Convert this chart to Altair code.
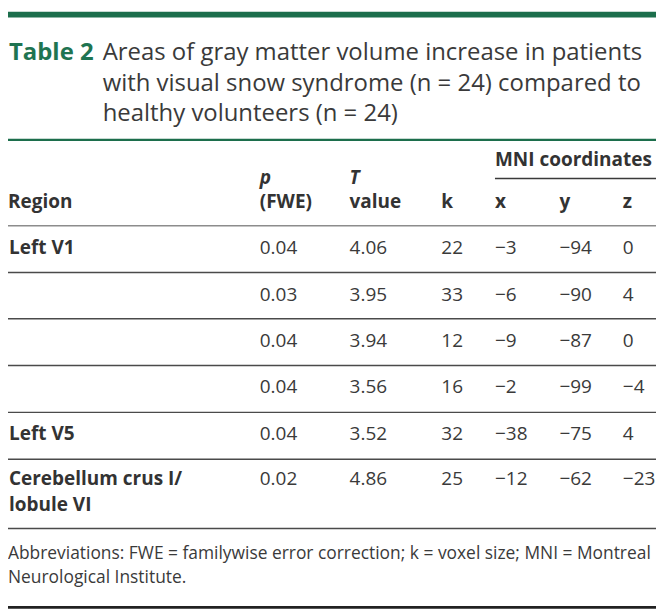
import altair as alt
import pandas as pd

regions = ["Left V1", "", "", "", "Left V5", "Cerebellum crus I/\nlobule VI"]
p_fwe = ["0.04", "0.03", "0.04", "0.04", "0.04", "0.02"]
t_value = ["4.06", "3.95", "3.94", "3.56", "3.52", "4.86"]
k_size = [22, 33, 12, 16, 32, 25]
mni_x = [-3, -6, -9, -2, -38, -12]
mni_y = [-94, -90, -87, -99, -75, -62]
mni_z = [0, 4, 0, -4, 4, -23]

table_label = "Table 2"
title_lines = [
    "Areas of gray matter volume increase in patients",
    "with visual snow syndrome (n = 24) compared to",
    "healthy volunteers (n = 24)",
]
group_header = "MNI coordinates"
header_italic = ["p", "T"]
header_bottom = ["Region", "(FWE)", "value", "k", "x", "y", "z"]
footnote_lines = [
    "Abbreviations: FWE = familywise error correction; k = voxel size; MNI = Montreal",
    "Neurological Institute.",
]

# ---------------- layout scales (column index / line slot -> pixels) ----------------
W, H = 656, 605
sx, sy = W / 664, H / 613
X_STOPS = [0, 97, 258, 350, 444, 499, 565, 630, 664]
C_LEFT, C_TITLE, C_P, C_T, C_K, C_X, C_Y, C_Z, C_RIGHT = range(9)
Y_STOPS = [3, 50, 81, 112, 131.5, 158, 171, 177, 201, 219.5,
           249, 267.5, 297, 315, 344, 363, 391, 411, 439, 459,
           486, 512, 530, 561.5, 586.5, 611]
S_BAR, S_T1, S_T2, S_T3, S_GLINE, S_MNI, S_MNILINE, S_H1, S_H2, S_HLINE = range(10)
ROW_SLOTS = [10, 12, 14, 16, 18, 20]
ROW_SECOND = 21
SEP_SLOTS = [11, 13, 15, 17, 19, 22]
S_F1, S_F2, S_BOTTOM = 23, 24, 25

xs = alt.Scale(domain=list(range(len(X_STOPS))), range=[v * sx for v in X_STOPS],
               zero=False, nice=False)
ys = alt.Scale(domain=list(range(len(Y_STOPS))), range=[v * sy for v in Y_STOPS],
               zero=False, nice=False)

def fmt(v):
    return f"\u2212{abs(v)}" if v < 0 else str(v)

# ---------------- tables built from the arrays ----------------
region_rows = []
for i, r in enumerate(regions):
    parts = r.split("\n")
    for j, part in enumerate(parts):
        if part:
            region_rows.append({"text": part, "col": C_LEFT,
                                "slot": ROW_SLOTS[i] if j == 0 else ROW_SECOND})
region_df = pd.DataFrame(region_rows)

value_rows = []
for i in range(len(regions)):
    vals = [p_fwe[i], t_value[i], str(k_size[i]), fmt(mni_x[i]), fmt(mni_y[i]), fmt(mni_z[i])]
    for c, v in zip([C_P, C_T, C_K, C_X, C_Y, C_Z], vals):
        value_rows.append({"text": v, "col": c, "slot": ROW_SLOTS[i]})
value_df = pd.DataFrame(value_rows)

header_df = pd.DataFrame(
    [{"text": group_header, "col": C_X, "slot": S_MNI}]
    + [{"text": t, "col": c, "slot": S_H2}
       for t, c in zip(header_bottom, [C_LEFT, C_P, C_T, C_K, C_X, C_Y, C_Z])]
)
header_it_df = pd.DataFrame([{"text": t, "col": c, "slot": S_H1}
                             for t, c in zip(header_italic, [C_P, C_T])])
label_df = pd.DataFrame([{"text": table_label, "col": C_LEFT, "slot": S_T1}])
title_df = pd.DataFrame([{"text": t, "col": C_TITLE, "slot": s}
                         for t, s in zip(title_lines, [S_T1, S_T2, S_T3])])
foot_df = pd.DataFrame([{"text": t, "col": C_LEFT, "slot": s}
                        for t, s in zip(footnote_lines, [S_F1, S_F2])])

def rules(pairs):
    return pd.DataFrame([{"x1": a, "x2": b, "slot": s} for a, b, s in pairs])

FONT = "Open Sans"
GREEN = "#1c6e4c"
TXT = "#333333"
TITLE_SIZE = 24.2
BODY_SIZE = 19.2
FOOT_SIZE = 17.6

def text_layer(df, size, weight="normal", style="normal", color=TXT, dx=0):
    return alt.Chart(df).mark_text(
        align="left", baseline="alphabetic", font=FONT, fontSize=size,
        fontWeight=weight, fontStyle=style, color=color, dx=dx
    ).encode(
        x=alt.X("col:Q", scale=xs, axis=None),
        y=alt.Y("slot:Q", scale=ys, axis=None),
        text="text:N",
    )

def rule_layer(df, color, width):
    return alt.Chart(df).mark_rule(color=color, strokeWidth=width).encode(
        x=alt.X("x1:Q", scale=xs, axis=None),
        x2="x2:Q",
        y=alt.Y("slot:Q", scale=ys, axis=None),
    )

layers = [
    rule_layer(rules([(C_LEFT, C_RIGHT, S_BAR)]), GREEN, 6),
    rule_layer(rules([(C_LEFT, C_RIGHT, S_GLINE)]), GREEN, 2.5),
    rule_layer(rules([(C_X, C_RIGHT, S_MNILINE)]), "#3a3a3a", 1.5),
    rule_layer(rules([(C_LEFT, C_RIGHT, S_HLINE)]), "#8c8c8c", 1.5),
    rule_layer(rules([(C_LEFT, C_RIGHT, s) for s in SEP_SLOTS]), "#4a4a4a", 1.5),
    rule_layer(rules([(C_LEFT, C_RIGHT, S_BOTTOM)]), "#222222", 3),
    text_layer(label_df, TITLE_SIZE, weight="bold", color="#1f7451", dx=1),
    text_layer(title_df, TITLE_SIZE, color="#3a3a3a"),
    text_layer(header_df, BODY_SIZE, weight="bold"),
    text_layer(header_it_df, BODY_SIZE, weight="bold", style="italic"),
    text_layer(region_df, BODY_SIZE, weight="bold", dx=1),
    text_layer(value_df, BODY_SIZE, color="#3a3a3a"),
    text_layer(foot_df, FOOT_SIZE, color="#3a3a3a"),
]

chart = alt.layer(*layers).properties(
    width=W, height=H, padding=0, autosize="none", background="white"
).configure_view(stroke=None)

chart.save("out.html", embed_options={"renderer": "svg", "actions": False})
